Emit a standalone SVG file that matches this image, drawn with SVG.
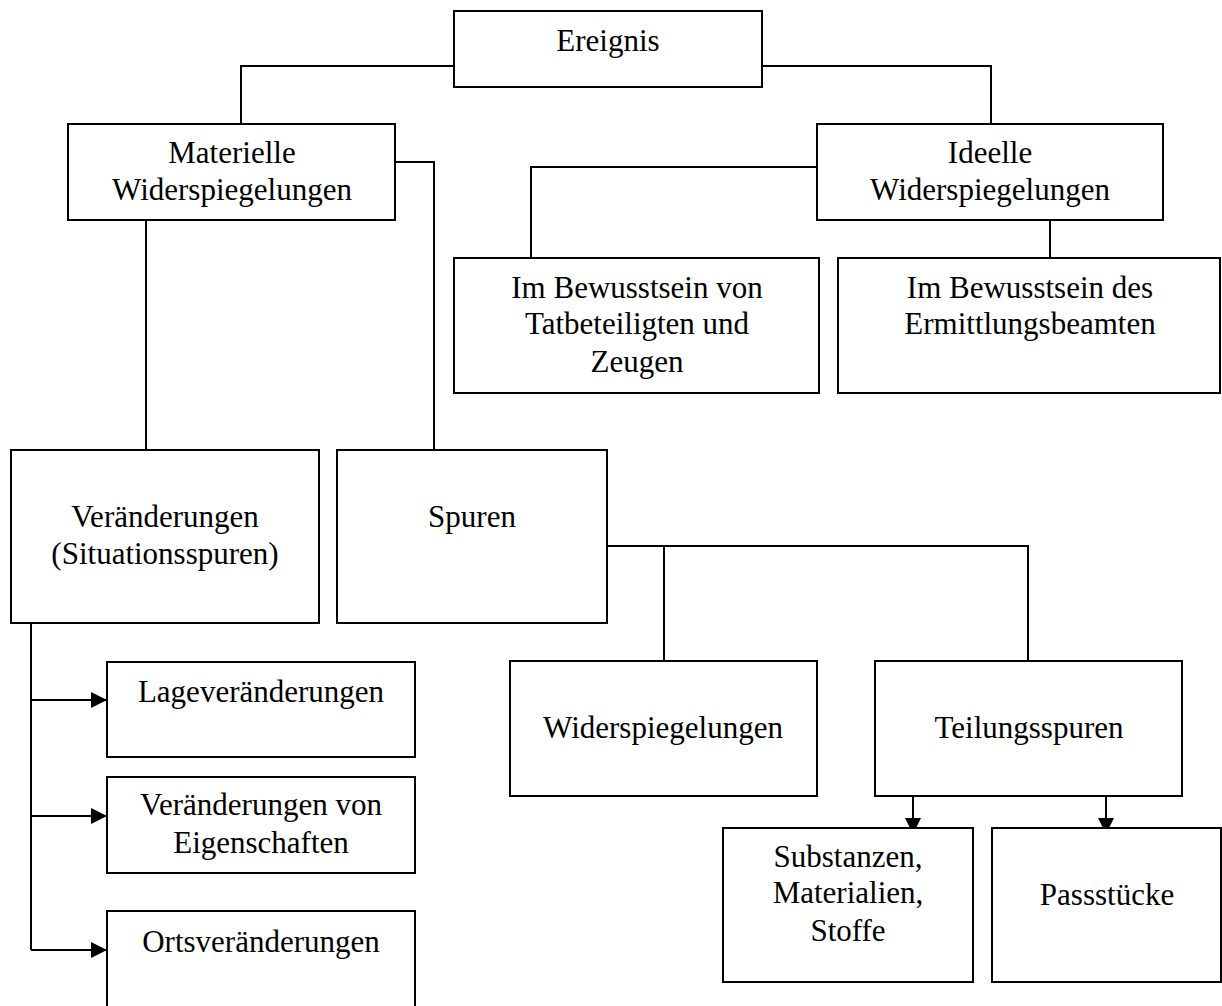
<svg xmlns="http://www.w3.org/2000/svg" width="1222" height="1006" viewBox="0 0 1222 1006">
  <style>
    .box { fill: #fff; stroke: #000; stroke-width: 2; }
    .lbl { font-family: "Liberation Serif", "Times New Roman", serif; font-size: 31px; fill: #000; text-anchor: middle; }
    .con { fill: none; stroke: #000; stroke-width: 2; }
  </style>
  <defs>
    <marker id="arr" viewBox="0 0 16 16" markerWidth="16" markerHeight="16" refX="16" refY="8" orient="auto" markerUnits="userSpaceOnUse">
      <path d="M0,0 L16,8 L0,16 z" fill="#000"/>
    </marker>
  </defs>
  <rect width="1222" height="1006" fill="#fff"/>

  <g id="connectors">
    <path class="con" d="M454,66 H241 V124"/>
    <path class="con" d="M762,66 H991 V124"/>
    <path class="con" d="M146,220 V450"/>
    <path class="con" d="M395,162 H434 V450"/>
    <path class="con" d="M817,167 H531 V263"/>
    <path class="con" d="M1050,220 V258"/>
    <path class="con" d="M607,546 H1028 V661"/>
    <path class="con" d="M664,546 V661"/>
    <path class="con" d="M31,623 V950"/>
    <path class="con" d="M31,700 H107" marker-end="url(#arr)"/>
    <path class="con" d="M31,816 H107" marker-end="url(#arr)"/>
    <path class="con" d="M31,950 H107" marker-end="url(#arr)"/>
    <path class="con" d="M913,796 V834" marker-end="url(#arr)"/>
    <path class="con" d="M1106,796 V834" marker-end="url(#arr)"/>
  </g>

  <g id="ereignis">
    <rect class="box" x="454" y="11" width="308" height="76"/>
    <text class="lbl" x="608" y="51">Ereignis</text>
  </g>
  <g id="materielle">
    <rect class="box" x="68" y="124" width="327" height="96"/>
    <text class="lbl" x="232" y="163">Materielle</text>
    <text class="lbl" x="232" y="200">Widerspiegelungen</text>
  </g>
  <g id="ideelle">
    <rect class="box" x="817" y="124" width="346" height="96"/>
    <text class="lbl" x="990" y="163">Ideelle</text>
    <text class="lbl" x="990" y="200">Widerspiegelungen</text>
  </g>
  <g id="bewusstsein-tatbeteiligte">
    <rect class="box" x="454" y="258" width="365" height="135"/>
    <text class="lbl" x="637" y="298">Im Bewusstsein von</text>
    <text class="lbl" x="637" y="334">Tatbeteiligten und</text>
    <text class="lbl" x="637" y="372">Zeugen</text>
  </g>
  <g id="bewusstsein-ermittlungsbeamter">
    <rect class="box" x="838" y="258" width="382" height="135"/>
    <text class="lbl" x="1030" y="298">Im Bewusstsein des</text>
    <text class="lbl" x="1030" y="334">Ermittlungsbeamten</text>
  </g>
  <g id="veraenderungen">
    <rect class="box" x="11" y="450" width="308" height="173"/>
    <text class="lbl" x="165" y="527">Veränderungen</text>
    <text class="lbl" x="165" y="564">(Situationsspuren)</text>
  </g>
  <g id="spuren">
    <rect class="box" x="337" y="450" width="270" height="173"/>
    <text class="lbl" x="472" y="527">Spuren</text>
  </g>
  <g id="lageveraenderungen">
    <rect class="box" x="107" y="662" width="308" height="95"/>
    <text class="lbl" x="261" y="702">Lageveränderungen</text>
  </g>
  <g id="eigenschaften">
    <rect class="box" x="107" y="777" width="308" height="96"/>
    <text class="lbl" x="261" y="815">Veränderungen von</text>
    <text class="lbl" x="261" y="853">Eigenschaften</text>
  </g>
  <g id="ortsveraenderungen">
    <rect class="box" x="107" y="911" width="308" height="110"/>
    <text class="lbl" x="261" y="952">Ortsveränderungen</text>
  </g>
  <g id="widerspiegelungen">
    <rect class="box" x="510" y="661" width="307" height="135"/>
    <text class="lbl" x="663" y="738">Widerspiegelungen</text>
  </g>
  <g id="teilungsspuren">
    <rect class="box" x="875" y="661" width="307" height="135"/>
    <text class="lbl" x="1029" y="738">Teilungsspuren</text>
  </g>
  <g id="substanzen">
    <rect class="box" x="723" y="828" width="250" height="154"/>
    <text class="lbl" x="848" y="867">Substanzen,</text>
    <text class="lbl" x="848" y="903">Materialien,</text>
    <text class="lbl" x="848" y="941">Stoffe</text>
  </g>
  <g id="passstuecke">
    <rect class="box" x="992" y="828" width="229" height="154"/>
    <text class="lbl" x="1107" y="905">Passstücke</text>
  </g>
</svg>
